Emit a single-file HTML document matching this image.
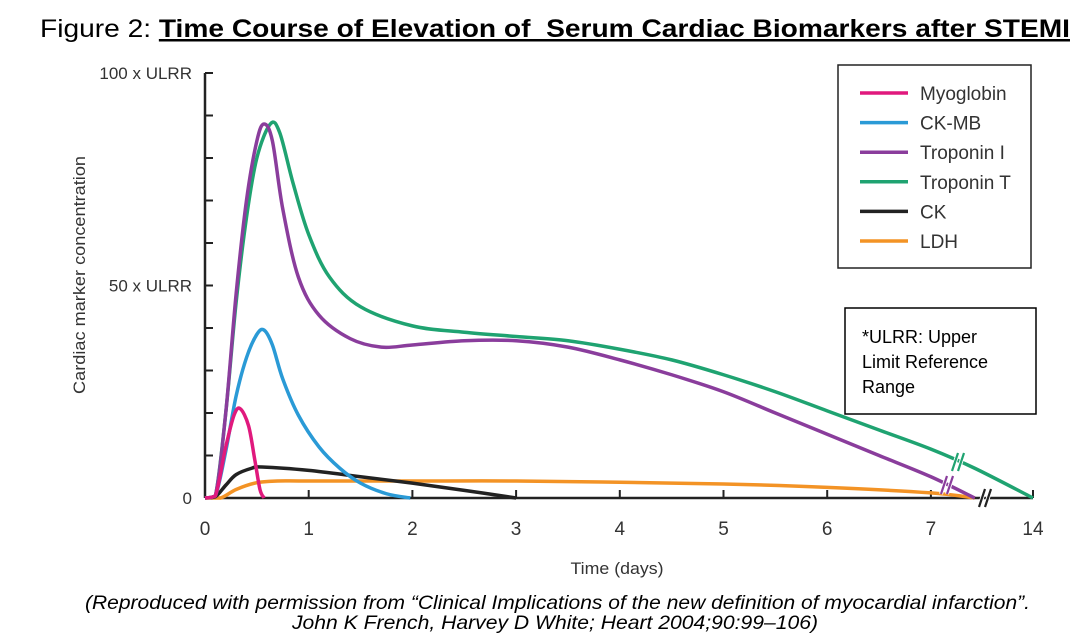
<!DOCTYPE html>
<html><head><meta charset="utf-8"><style>
body{margin:0;background:#fff;width:1091px;height:644px;overflow:hidden;font-family:"Liberation Sans",Arial,sans-serif}
svg{display:block}
</style></head><body>
<svg id="chart" width="1091" height="644" viewBox="0 0 1091 644">
<text x="40" y="37" font-size="25" fill="#000" textLength="1030" lengthAdjust="spacingAndGlyphs" xml:space="preserve">Figure 2: <tspan font-weight="bold" text-decoration="underline">Time Course of Elevation of  Serum Cardiac Biomarkers after STEMI</tspan></text>
<g id="axes"></g>
<g id="series"></g>
<g>
<rect x="838" y="65" width="193" height="203" fill="#fff" stroke="#222" stroke-width="1.5"/>
<g id="legend-items"></g>
</g>
<g>
<rect x="845" y="308" width="191" height="106" fill="#fff" stroke="#000" stroke-width="1.5"/>
<text x="862" y="343" font-size="18">*ULRR: Upper</text>
<text x="862" y="368" font-size="18">Limit Reference</text>
<text x="862" y="393" font-size="18">Range</text>
</g>
<text x="617" y="574" font-size="17" fill="#333" text-anchor="middle" textLength="93" lengthAdjust="spacingAndGlyphs">Time (days)</text>
<text transform="translate(85,275) rotate(-90)" font-size="17" fill="#333" text-anchor="middle" textLength="238" lengthAdjust="spacingAndGlyphs">Cardiac marker concentration</text>
<text font-size="19" font-style="italic" fill="#000"><tspan x="85" y="609" textLength="945" lengthAdjust="spacingAndGlyphs">(Reproduced with permission from “Clinical Implications of the new definition of myocardial infarction”.</tspan><tspan x="292" y="629" textLength="526" lengthAdjust="spacingAndGlyphs">John K French, Harvey D White; Heart 2004;90:99–106)</tspan></text>
</svg>
<script>
const xTickLabels=["0","1","2","3","4","5","6","7","14"];
const xTickDays=[0,1,2,3,4,5,6,7,14];
const yTickVals=[0,10,20,30,40,50,60,70,80,90,100];
const yTickLabels={0:"0",50:"50 x ULRR",100:"100 x ULRR"};
const seriesNames=["Myoglobin","CK-MB","Troponin I","Troponin T","CK","LDH"];
const seriesColors=["#e0197d","#2a9ad6","#8a3d9c","#1fa371","#222222","#f39325"];
const myoDays=[0,0.1,0.2,0.28,0.34,0.42,0.48,0.53,0.57];
const myoVals=[0,0.5,12,19.5,21,17,9,2,0];
const ckmbDays=[0,0.1,0.2,0.3,0.4,0.5,0.57,0.65,0.75,0.9,1.1,1.3,1.5,1.75,1.98];
const ckmbVals=[0,0.5,11,24,33,38.5,39.5,36,28,19.5,12,7,3.5,1,0];
const tniDays=[0,0.1,0.2,0.3,0.4,0.5,0.57,0.65,0.75,0.9,1.1,1.4,1.7,2,2.5,3,3.5,4,4.5,5,5.5,6,6.5,7,10];
const tniVals=[0,0.5,20,48,70,84,88,84,68,52,43,37.5,35.5,36,37,37,35.5,32.5,29,25,20,15,10,5,0];
const tntDays=[0,0.1,0.2,0.3,0.4,0.5,0.63,0.72,0.85,1,1.2,1.5,2,2.5,3,3.5,4,4.5,5,5.5,6,6.5,7,10,14];
const tntVals=[0,0.5,20,46,66,80,88,86,74,62,52,45,40.5,39,38,37,35,32.5,29,25,20.5,16,11.5,7,0];
const ckDays=[0,0.1,0.2,0.3,0.45,0.55,1,1.5,2,2.5,3];
const ckVals=[0,0.3,3,5.5,7,7.3,6.5,5,3.5,1.8,0];
const ldhDays=[0,0.15,0.3,0.5,0.7,1,2,3,4,5,6,7,10];
const ldhVals=[0,0,2,3.6,4,4,4,4,3.7,3.3,2.5,1.2,0];
const allDays=[myoDays,ckmbDays,tniDays,tntDays,ckDays,ldhDays];
const allVals=[myoVals,ckmbVals,tniVals,tntVals,ckVals,ldhVals];

const X0=205,PX=103.7,X7=931,X14=1033,Y0=498,PY=4.25;
function xs(d){return d<=7?X0+d*PX:X7+(d-7)*(X14-X7)/7;}
function ys(v){return Y0-v*PY;}
const NS="http://www.w3.org/2000/svg";
function mk(tag,attrs,parent){const e=document.createElementNS(NS,tag);for(const k in attrs)e.setAttribute(k,attrs[k]);parent.appendChild(e);return e;}
const axes=document.getElementById('axes');
let ya=mk('line',{x1:X0,y1:ys(100),x2:X0,y2:Y0,stroke:'#222','stroke-width':2.5},axes);


let xa=mk('line',{x1:X0,y1:Y0,x2:X14,y2:Y0,stroke:'#222','stroke-width':2.5},axes);


yTickVals.forEach(v=>{
 let t=mk('line',{x1:X0,y1:ys(v),x2:X0+8,y2:ys(v),stroke:'#222','stroke-width':2},axes);
 
 
 if(yTickLabels[v]!==undefined){
  let tx=mk('text',{x:192,y:ys(v)+6,'font-size':17,fill:'#333','text-anchor':'end'},axes);
  tx.textContent=yTickLabels[v];
  
  
 }
});
xTickDays.forEach((d,i)=>{
 let t=mk('line',{x1:xs(d),y1:Y0,x2:xs(d),y2:Y0-8,stroke:'#222','stroke-width':2},axes);
 
 
 let tx=mk('text',{x:xs(d),y:Y0+37,'font-size':19,fill:'#333','text-anchor':'middle'},axes);
 tx.textContent=xTickLabels[i];
 
 
});
function path(pts){
 let d='M'+pts[0][0]+','+pts[0][1];
 for(let i=0;i<pts.length-1;i++){
  const p0=pts[i-1]||pts[i],p1=pts[i],p2=pts[i+1],p3=pts[i+2]||p2;
  let c1=[p1[0]+(p2[0]-p0[0])/6,p1[1]+(p2[1]-p0[1])/6];
  let c2=[p2[0]-(p3[0]-p1[0])/6,p2[1]-(p3[1]-p1[1])/6];
  c1[1]=Math.min(c1[1],Y0);c2[1]=Math.min(c2[1],Y0);
  d+=` C${c1[0]},${c1[1]} ${c2[0]},${c2[1]} ${p2[0]},${p2[1]}`;
 }
 return d;
}
const sg=document.getElementById('series');
[5,4,1,3,2,0].forEach(i=>{
 const pts=allDays[i].map((d,j)=>[xs(d),ys(allVals[i][j])]);
 let p=mk('path',{d:path(pts),fill:'none',stroke:seriesColors[i],'stroke-width':3.5,'stroke-linejoin':'round'},sg);
 
 
});
function brk(x,y,color,name){
 const g=mk('g',{},sg);
 
 
 [-3,3].forEach(o=>{mk('line',{x1:x+o-3,y1:y+9,x2:x+o+3,y2:y-9,stroke:'#fff','stroke-width':4},g);});
 [-3,3].forEach(o=>{mk('line',{x1:x+o-3,y1:y+9,x2:x+o+3,y2:y-9,stroke:color,'stroke-width':2.2},g);});
}
brk(958,462,seriesColors[3],'break-troponin-t');
brk(947,485,seriesColors[2],'break-troponin-i');
brk(985,498,'#222','break-x-axis');
const lg=document.getElementById('legend-items');
seriesNames.forEach((n,i)=>{
 const y=93+i*29.6;
 let l=mk('line',{x1:860,y1:y,x2:908,y2:y,stroke:seriesColors[i],'stroke-width':3.5},lg);
 
 
 let t=mk('text',{x:920,y:y+7,'font-size':19,fill:'#333'},lg);
 t.textContent=n;
 
 
});
</script>
</body></html>
